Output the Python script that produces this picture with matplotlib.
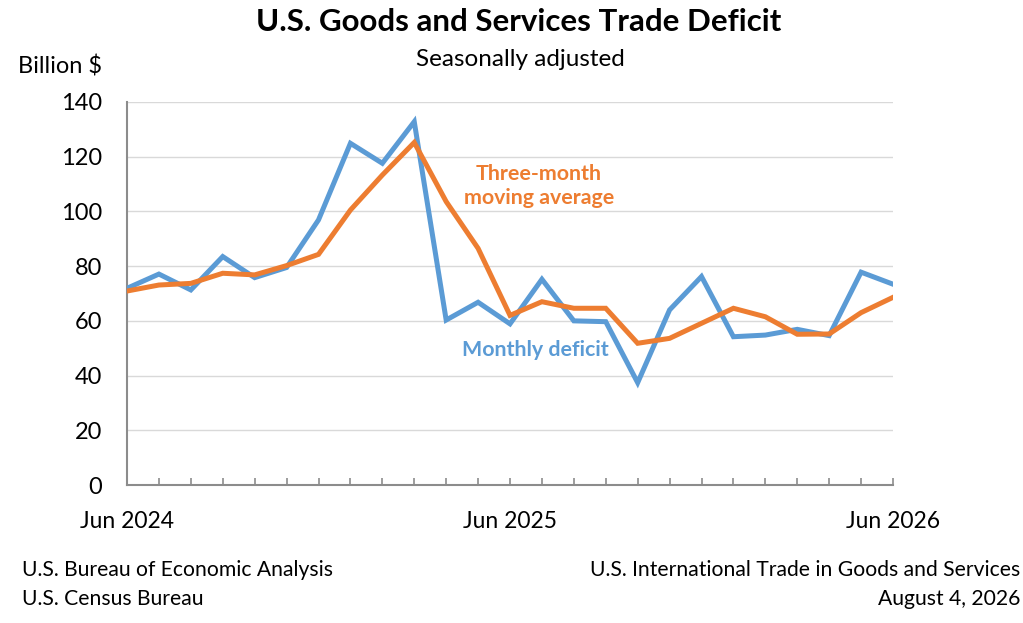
import matplotlib
matplotlib.use("Agg")
import matplotlib.pyplot as plt

plt.rcParams['font.family'] = ['Lato', 'DejaVu Sans']

# months from Jun 2024 to Jun 2026
months = list(range(25))
tick_pos = [0, 12, 24]
tick_labels = ['Jun 2024', 'Jun 2025', 'Jun 2026']

monthly = [71.9, 77.1, 71.3, 83.5, 75.8, 79.5, 96.9, 124.9, 117.6, 132.8,
           60.3, 66.8, 58.9, 75.2, 60.0, 59.7, 37.4, 64.0, 76.2, 54.2,
           54.8, 56.9, 54.6, 77.8, 73.4]
avg3 = [70.9, 73.1, 73.7, 77.4, 76.8, 80.2, 84.3, 100.5, 113.3, 125.2,
        103.6, 86.5, 62.0, 67.0, 64.6, 64.6, 51.8, 53.6, 59.1, 64.6,
        61.5, 55.1, 55.2, 63.0, 68.6]

blue = '#5B9BD5'
orange = '#ED7D31'

fig = plt.figure(figsize=(10.23, 6.23), dpi=100)
ax = fig.add_axes([127/1023, (623-485)/623, 766/1023, 383/623])

ax.plot(months, monthly, color=blue, lw=3.6, solid_joinstyle='miter', zorder=3)
ax.plot(months, avg3, color=orange, lw=3.6, solid_joinstyle='miter', zorder=4)

ax.set_xlim(0, 24)
ax.set_ylim(0, 140)
ax.set_yticks(range(0, 141, 20))
ax.set_xticks(months, minor=True)
ax.set_xticks(tick_pos)
ax.set_xticklabels(tick_labels)
ax.grid(axis='y', color='#D9D9D9', lw=1)
ax.set_axisbelow(True)

for s in ['top', 'right']:
    ax.spines[s].set_visible(False)
for s in ['left', 'bottom']:
    ax.spines[s].set_color('#8C8C8C')
    ax.spines[s].set_linewidth(1.5)

ax.tick_params(axis='y', length=0, pad=18, labelsize=17)
ax.tick_params(axis='x', which='both', direction='in', length=5, color='#8C8C8C',
               width=1.2, labelsize=16.5, pad=19)

ax.text(12.9, 109.3, 'Three-month\nmoving average', color=orange, fontsize=15.4,
        fontweight='bold', ha='center', va='center', linespacing=1.25)
ax.text(12.8, 49.4, 'Monthly deficit', color=blue, fontsize=15.4,
        fontweight='bold', ha='center', va='center')

fig.text(519/1023, 1 - 22/623, 'U.S. Goods and Services Trade Deficit',
         ha='center', va='center', fontsize=22.5, fontweight='bold')
fig.text(520/1023, 1 - 60/623, 'Seasonally adjusted', ha='center', va='center', fontsize=17.5)
fig.text(18/1023, 1 - 67/623, 'Billion $', ha='left', va='center', fontsize=17)

fig.text(22/1023, 1 - 570/623, 'U.S. Bureau of Economic Analysis', ha='left', va='center', fontsize=15.2)
fig.text(22/1023, 1 - 599/623, 'U.S. Census Bureau', ha='left', va='center', fontsize=15.2)
fig.text(1020/1023, 1 - 570/623, 'U.S. International Trade in Goods and Services',
         ha='right', va='center', fontsize=15.2)
fig.text(1020/1023, 1 - 599/623, 'August 4, 2026', ha='right', va='center', fontsize=15.2)

fig.savefig('out.png', dpi=100)
